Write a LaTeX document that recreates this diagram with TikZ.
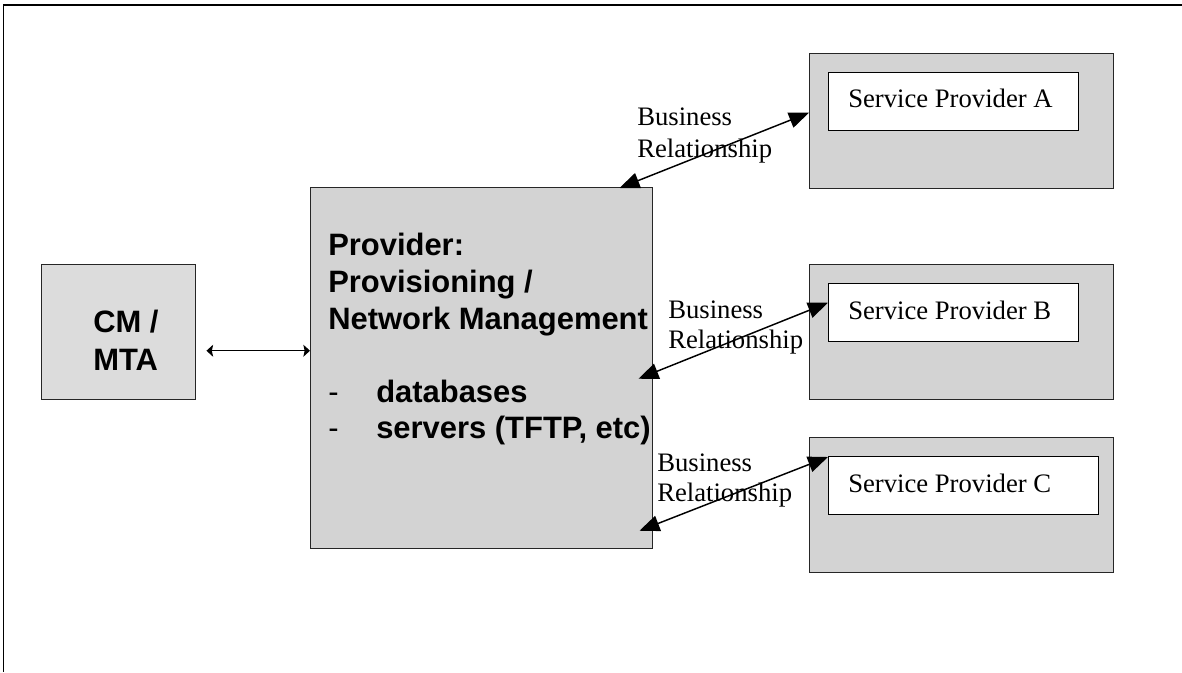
\documentclass[tikz,border=0pt]{standalone}
\usepackage{fontspec}
\setmainfont{Liberation Serif}
\newfontfamily\headfont{Liberation Sans}
\usetikzlibrary{arrows.meta,calc}

\definecolor{boxgray}{RGB}{211,211,211}
\definecolor{cmgray}{RGB}{220,220,220}

\tikzset{
  px/.style={x=0.75pt,y=-0.75pt},
  graybox/.style={draw=black!85,line width=1.1pt,fill=boxgray,inner sep=0pt,anchor=north west},
  namebox/.style={draw=black,line width=1.1pt,fill=white,inner sep=0pt,anchor=north west},
  boldtext/.style={font=\headfont\bfseries\fontsize{23.2pt}{27.4pt}\selectfont,
    inner sep=0pt,anchor=base west,align=left},
  serif/.style={font=\fontsize{20pt}{23pt}\selectfont,inner sep=0pt,anchor=base west,align=left},
  bizlink/.style={line width=1.1pt,{Triangle[length=15pt,width=12pt]}-{Triangle[length=15pt,width=12pt]}},
  cmlink/.style={line width=0.8pt,{Stealth[length=5pt,width=9pt,inset=1pt]}-{Stealth[length=5pt,width=9pt,inset=1pt]}}
}

\begin{document}
\begin{tikzpicture}[px]
  \useasboundingbox (0,0) rectangle (1182,672);

  % page frame: heavy top rule, thin left rule
  \draw[line width=1.5pt] (3,5) -- (1182,5);
  \draw[line width=0.75pt] (3,5) -- (3,672);

  % cable modem / MTA (multi-line nodes sit on the baseline of their last line)
  \node[graybox,fill=cmgray,minimum width=154*0.75pt,minimum height=135*0.75pt] (cm) at (41,264) {};
  \node[boldtext,font=\headfont\bfseries\fontsize{23.2pt}{28.5pt}\selectfont] (cmtext) at (93,370) {CM /\\MTA};

  % central provisioning block
  \node[graybox,minimum width=342*0.75pt,minimum height=361*0.75pt] (prov) at (310,187) {};
  \node[boldtext] (provtext) at (328,329) {Provider:\\Provisioning /\\Network Management};
  \node[boldtext,font=\headfont\fontsize{23.2pt}{27.4pt}\selectfont] (dash1) at (328,402) {-};
  \node[boldtext,font=\headfont\fontsize{23.2pt}{27.4pt}\selectfont] (dash2) at (328,438.5) {-};
  \node[boldtext] (dbtext) at (376,402) {databases};
  \node[boldtext] (srvtext) at (376,438.5) {servers (TFTP, etc)};

  % service providers
  \node[graybox,minimum width=304*0.75pt,minimum height=135*0.75pt] (spA) at (809,53) {};
  \node[namebox,minimum width=250*0.75pt,minimum height=58*0.75pt] (inA) at (828,72) {};
  \node[serif] (nameA) at (848,107) {Service Provider A};

  \node[graybox,minimum width=304*0.75pt,minimum height=135*0.75pt] (spB) at (809,264) {};
  \node[namebox,minimum width=250*0.75pt,minimum height=58*0.75pt] (inB) at (828,283) {};
  \node[serif] (nameB) at (848,319) {Service Provider B};

  \node[graybox,minimum width=304*0.75pt,minimum height=135*0.75pt] (spC) at (809,437) {};
  \node[namebox,minimum width=270*0.75pt,minimum height=58*0.75pt] (inC) at (828,456) {};
  \node[serif] (nameC) at (848,492) {Service Provider C};

  % relationship labels
  \node[serif,font=\fontsize{20pt}{24pt}\selectfont] (relA) at (637,157) {Business\\Relationship};
  \node[serif,font=\fontsize{20pt}{22.5pt}\selectfont] (relB) at (668,348) {Business\\Relationship};
  \node[serif,font=\fontsize{20pt}{22.5pt}\selectfont] (relC) at (657,501) {Business\\Relationship};

  % connectors
  \draw[cmlink] ($(cm.east)+(10,18.5)$) -- ($(prov.west)+(0,-17.5)$);
  \draw[bizlink] ($(prov.north east)+(-34,1)$) -- ($(spA.west)+(0,-8.5)$);
  \draw[bizlink] ($(prov.east)+(-15,10.5)$) -- ($(inB.west)+(0,-10)$);
  \draw[bizlink] ($(prov.east)+(-14,162.5)$) -- ($(inC.north west)+(0,1)$);
\end{tikzpicture}
\end{document}
